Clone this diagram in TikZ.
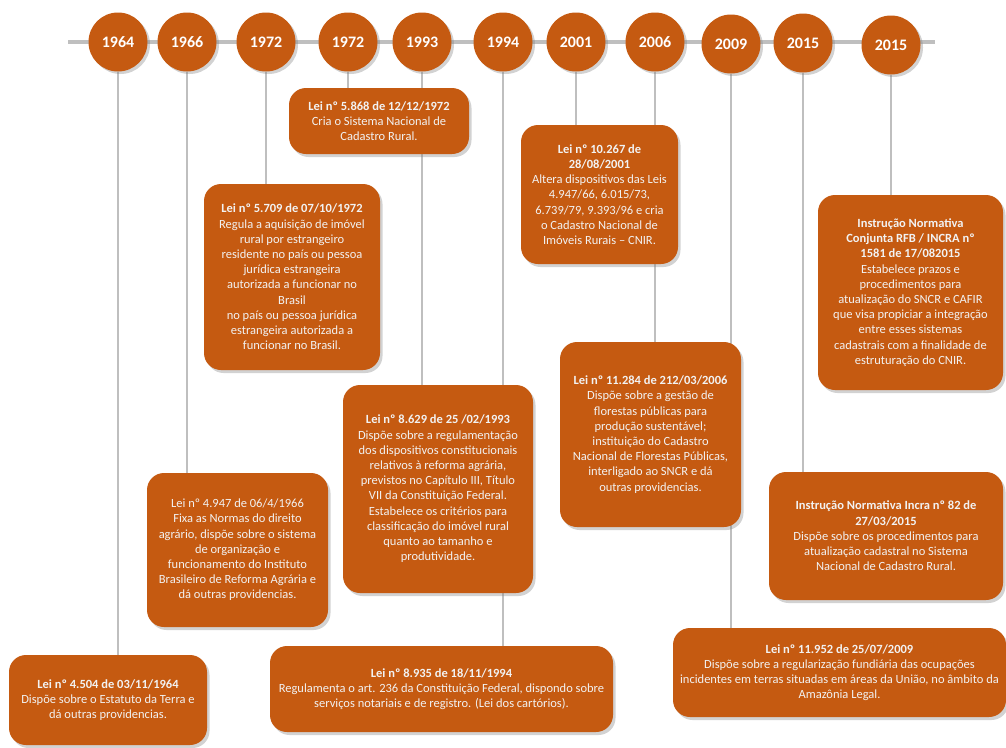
\documentclass[tikz,border=0pt]{standalone}
\usepackage{fontspec}
\setmainfont{Carlito}
\usetikzlibrary{shadows,backgrounds}
\definecolor{lawfill}{HTML}{C55A11}
\definecolor{railgray}{HTML}{BFBFBF}
\tikzset{
  yearball/.style={circle, fill=lawfill, minimum size=59pt, inner sep=0pt,
    text=white, font=\fontsize{16}{18}\selectfont\bfseries,
    drop shadow={shadow xshift=2.5pt, shadow yshift=-2.5pt, opacity=0.35}},
  lawbox/.style={rounded corners=17pt, fill=lawfill, inner sep=2pt, align=center,
    text=white!95!black, font=\fontsize{12.5}{15.2}\selectfont,
    drop shadow={shadow xshift=2.5pt, shadow yshift=-3pt, opacity=0.35}},
  link/.style={draw=railgray, line width=2.6pt},
  rail/.style={draw=railgray, line width=4pt}
}
\begin{document}
\begin{tikzpicture}[x=1pt, y=-1pt]
\useasboundingbox (0,0) rectangle (1006,747);

% year markers
\node[yearball] (y1964) at (118,42) {1964};
\node[yearball] (y1966) at (187,42) {1966};
\node[yearball] (y1972a) at (266,42) {1972};
\node[yearball] (y1972b) at (348,42) {1972};
\node[yearball] (y1993) at (422,42) {1993};
\node[yearball] (y1994) at (503,42) {1994};
\node[yearball] (y2001) at (576,42) {2001};
\node[yearball] (y2006) at (655,42) {2006};
\node[yearball] (y2009) at (731,44) {2009};
\node[yearball] (y2015a) at (803,43) {2015};
\node[yearball] (y2015b) at (891,45) {2015};

% law descriptions
\node[lawbox, minimum width=180pt, minimum height=66pt] (b5868) at (379,121)
  {\textbf{Lei nº 5.868 de 12/12/1972}\\Cria o Sistema Nacional de\\Cadastro Rural.};
\node[lawbox, minimum width=176pt, minimum height=186pt] (b5709) at (292,277)
  {\textbf{Lei nº 5.709 de 07/10/1972}\\Regula a aquisição de imóvel\\rural por estrangeiro\\residente no país ou pessoa\\jurídica estrangeira\\autorizada a funcionar no\\Brasil\\no país ou pessoa jurídica\\estrangeira autorizada a\\funcionar no Brasil.};
\node[lawbox, minimum width=157pt, minimum height=139pt] (b10267) at (599.5,194.5)
  {\textbf{Lei nº 10.267 de}\\\textbf{28/08/2001}\\Altera dispositivos das Leis\\4.947/66, 6.015/73,\\6.739/79, 9.393/96 e cria\\o Cadastro Nacional de\\Imóveis Rurais – CNIR.};
\node[lawbox, minimum width=185pt, minimum height=195pt] (b1581) at (910.5,292.5)
  {\textbf{Instrução Normativa}\\\textbf{Conjunta RFB / INCRA nº}\\\textbf{1581 de 17/082015}\\Estabelece prazos e\\procedimentos para\\atualização do SNCR e CAFIR\\que visa propiciar a integração\\entre esses sistemas\\cadastrais com a finalidade de\\estruturação do CNIR.};
\node[lawbox, minimum width=181pt, minimum height=154pt] (b4947) at (237.5,550)
  {Lei nº 4.947 de 06/4/1966\\Fixa as Normas do direito\\agrário, dispõe sobre o sistema\\de organização e\\funcionamento do Instituto\\Brasileiro de Reforma Agrária e\\dá outras providencias.};
\node[lawbox, minimum width=190pt, minimum height=208pt] (b8629) at (438,489)
  {\textbf{Lei nº 8.629 de 25 /02/1993}\\Dispõe sobre a regulamentação\\dos dispositivos constitucionais\\relativos à reforma agrária,\\previstos no Capítulo III, Título\\VII da Constituição Federal.\\Estabelece os critérios para\\classificação do imóvel rural\\quanto ao tamanho e\\produtividade.};
\node[lawbox, minimum width=181pt, minimum height=185pt] (b11284) at (650.5,434.5)
  {\textbf{Lei nº 11.284 de 212/03/2006}\\Dispõe sobre a gestão de\\florestas públicas para\\produção sustentável;\\instituição do Cadastro\\Nacional de Florestas Públicas,\\interligado ao SNCR e dá\\outras providencias.};
\node[lawbox, minimum width=234pt, minimum height=128pt] (b82) at (886,536)
  {\textbf{Instrução Normativa Incra nº 82 de}\\\textbf{27/03/2015}\\Dispõe sobre os procedimentos para\\atualização cadastral no Sistema\\Nacional de Cadastro Rural.};
\node[lawbox, minimum width=333pt, minimum height=89pt] (b11952) at (839.5,672.5)
  {\textbf{Lei nº 11.952 de 25/07/2009}\\Dispõe sobre a regularização fundiária das ocupações\\incidentes em terras situadas em áreas da União, no âmbito da\\Amazônia Legal.};
\node[lawbox, minimum width=198pt, minimum height=90pt] (b4504) at (108,700)
  {\textbf{Lei nº 4.504 de 03/11/1964}\\Dispõe sobre o Estatuto da Terra e\\dá outras providencias.};
\node[lawbox, minimum width=343pt, minimum height=86pt] (b8935) at (441.5,689)
  {\textbf{Lei nº 8.935 de 18/11/1994}\\Regulamenta o art. 236 da Constituição Federal, dispondo sobre\\serviços notariais e de registro. (Lei dos cartórios).};

% white page, timeline rail and drop lines behind everything
\begin{pgfonlayer}{background}
  \fill[white] (0,0) rectangle (1006,747);
  \coordinate (railL) at (68,42);
  \coordinate (railR) at (935,42);
  \draw[rail] (railL) -- (railR);
  \draw[link] (y1964) -- (y1964 |- b4504.north);
  \draw[link] (y1966) -- (y1966 |- b4947.north);
  \draw[link] (y1972a) -- (y1972a |- b5709.north);
  \draw[link] (y1972b) -- (y1972b |- b5868.north);
  \draw[link] (y1993) -- (y1993 |- b8629.north);
  \draw[link] (y1994) -- (y1994 |- b8935.north);
  \draw[link] (y2001) -- (y2001 |- b10267.north);
  \draw[link] (y2006) -- (y2006 |- b11284.north);
  \draw[link] (y2009) -- (y2009 |- b11952.north);
  \draw[link] (y2015a) -- (y2015a |- b82.north);
  \draw[link] (y2015b) -- (y2015b |- b1581.north);
\end{pgfonlayer}
\end{tikzpicture}
\end{document}
